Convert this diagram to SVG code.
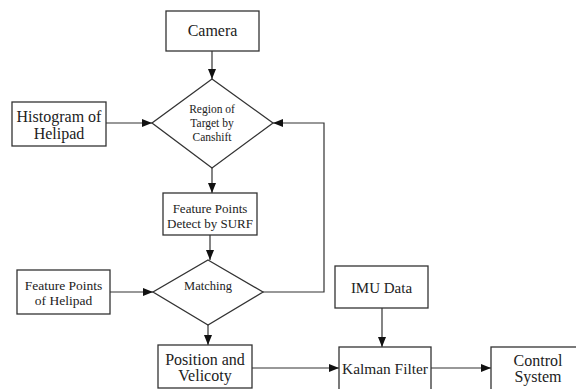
<svg xmlns="http://www.w3.org/2000/svg" width="576" height="389" viewBox="0 0 576 389">
<style>
.n{fill:#fff;stroke:#333;stroke-width:1.3}
.c{fill:none;stroke:#333;stroke-width:1.2}
</style>
<defs>
<marker id="a" markerWidth="10" markerHeight="8" refX="10" refY="4" orient="auto" markerUnits="userSpaceOnUse">
<path d="M0,0 L10,4 L0,8 Z" fill="#111"/>
</marker>
</defs>
<rect width="576" height="389" fill="#fff"/>
<g id="connectors">
<path class="c" d="M212,51 V79" marker-end="url(#a)"/>
<path class="c" d="M106,123 H152" marker-end="url(#a)"/>
<path class="c" d="M212,168 V193" marker-end="url(#a)"/>
<path class="c" d="M210,235 V260" marker-end="url(#a)"/>
<path class="c" d="M110,292 H153" marker-end="url(#a)"/>
<path class="c" d="M263,292 H324 V123 H273" marker-end="url(#a)"/>
<path class="c" d="M208,325 V345" marker-end="url(#a)"/>
<path class="c" d="M252,368 H339" marker-end="url(#a)"/>
<path class="c" d="M382,308 V347" marker-end="url(#a)"/>
<path class="c" d="M431,368 H491" marker-end="url(#a)"/>
</g>
<g font-family="Liberation Serif" fill="#222" text-anchor="middle">
<g id="camera"><rect class="n" x="166" y="11" width="93" height="40"/><text x="212.5" y="36" font-size="16">Camera</text></g>
<g id="histogram"><rect class="n" x="12" y="102" width="94" height="44"/><text x="59" y="122" font-size="16">Histogram of</text><text x="59" y="139" font-size="16">Helipad</text></g>
<g id="region"><path class="n" d="M212,79 L273,123 L212,168 L152,123 Z"/><text x="212" y="113" font-size="11.5">Region of</text><text x="212" y="127" font-size="11.5">Target by</text><text x="212" y="141" font-size="11.5">Canshift</text></g>
<g id="surf"><rect class="n" x="163" y="193" width="94" height="42"/><text x="210" y="213" font-size="13">Feature Points</text><text x="210" y="228" font-size="13">Detect by SURF</text></g>
<g id="featurepad"><rect class="n" x="17" y="270" width="93" height="44"/><text x="63.5" y="290" font-size="13.5">Feature Points</text><text x="63.5" y="305" font-size="13.5">of Helipad</text></g>
<g id="matching"><path class="n" d="M208,260 L263,292 L208,325 L153,292 Z"/><text x="208" y="290" font-size="12.5">Matching</text></g>
<g id="position"><rect class="n" x="158" y="345" width="94" height="43"/><text x="205" y="365" font-size="16">Position and</text><text x="205" y="381" font-size="16">Velicoty</text></g>
<g id="imu"><rect class="n" x="335" y="266" width="93" height="42"/><text x="381.5" y="293" font-size="15">IMU Data</text></g>
<g id="kalman"><rect class="n" x="339" y="347" width="92" height="45"/><text x="385" y="374" font-size="15.4">Kalman Filter</text></g>
<g id="control"><rect class="n" x="491" y="347" width="90" height="45"/><text x="538" y="366" font-size="16">Control</text><text x="538" y="382" font-size="16">System</text></g>
</g>
</svg>
